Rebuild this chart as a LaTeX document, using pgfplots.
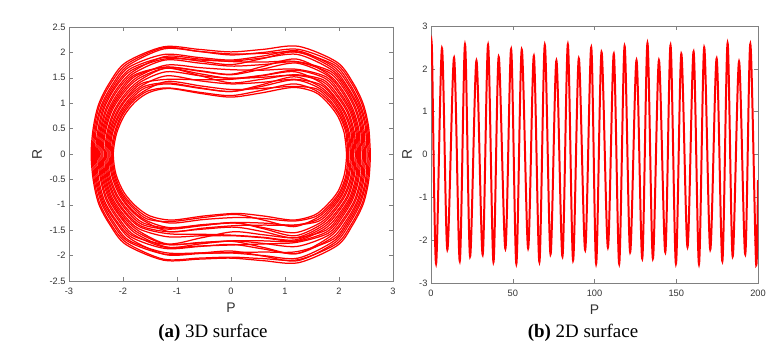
\documentclass[border=0pt]{standalone}
\usepackage{pgfplots}
\pgfplotsset{compat=1.18}
\usepackage{fontspec}
\setmainfont{Liberation Sans}
\newfontfamily\capfont{Liberation Serif}

\pgfplotsset{
  matlab/.style={
    scale only axis, anchor=south west,
    axis line style={black!50, line width=0.5pt},
    tick style={black!50, line width=0.5pt},
    major tick length=4bp,
    tick align=inside,
    xtick pos=both, ytick pos=both,
    tick label style={font=\fontsize{9.3}{11}\selectfont, text=black!80},
    xticklabel style={yshift=-4bp},
    /pgf/number format/assume math mode=true,
    every axis x label/.style={at={(axis description cs:0.5,0)}, anchor=center,
      yshift=-27bp, font=\fontsize{14}{16}\selectfont, text=black!80},
    every axis y label/.style={at={(axis description cs:0,0.5)}, anchor=center,
      xshift=-#1, rotate=90, font=\fontsize{14}{16}\selectfont, text=black!80},
  },
  orbit/.style={red, line width=1.25pt, smooth, no marks},
}

\begin{document}
\begin{tikzpicture}
\path[use as bounding box] (0,0) rectangle (781bp,346bp);

% (a) phase portrait: one closed orbit per plot, inner to outer
\begin{axis}[matlab=32bp,
  at={(69bp,65bp)}, width=324bp, height=254bp,
  xmin=-3, xmax=3, ymin=-2.5, ymax=2.5,
  xtick={-3,-2,...,3}, ytick={-2.5,-2,...,2.5},
  xlabel={P}, ylabel={R}]
\addplot[orbit] coordinates {(2.14,0) (2.10,0.40) (1.98,0.74) (1.78,1.02) (1.55,1.22) (1.15,1.31) (0.55,1.20) (0,1.12) (-0.55,1.19) (-1.15,1.29) (-1.52,1.21) (-1.78,1.02) (-1.98,0.75) (-2.12,0.40) (-2.18,0) (-2.13,-0.40) (-1.98,-0.76) (-1.76,-1.03) (-1.50,-1.22) (-1.10,-1.30) (-0.50,-1.22) (0.10,-1.17) (0.60,-1.22) (1.15,-1.30) (1.55,-1.20) (1.78,-1.00) (1.98,-0.74) (2.10,-0.40) (2.14,0) (2.10,0.40)};
\addplot[orbit] coordinates {(2.16,0) (2.13,0.41) (2.01,0.75) (1.81,1.04) (1.57,1.25) (1.16,1.38) (0.55,1.25) (0,1.15) (-0.55,1.21) (-1.16,1.30) (-1.54,1.24) (-1.81,1.04) (-2.01,0.76) (-2.14,0.41) (-2.20,0) (-2.15,-0.41) (-2.01,-0.77) (-1.79,-1.05) (-1.53,-1.25) (-1.11,-1.36) (-0.51,-1.29) (0.10,-1.25) (0.60,-1.27) (1.16,-1.32) (1.57,-1.23) (1.81,-1.02) (2.01,-0.75) (2.13,-0.41) (2.16,0) (2.13,0.41)};
\addplot[orbit] coordinates {(2.18,0) (2.15,0.41) (2.03,0.76) (1.83,1.06) (1.59,1.28) (1.16,1.33) (0.56,1.29) (0,1.27) (-0.56,1.34) (-1.16,1.43) (-1.56,1.27) (-1.83,1.06) (-2.03,0.77) (-2.16,0.41) (-2.22,0) (-2.17,-0.41) (-2.03,-0.78) (-1.81,-1.07) (-1.55,-1.28) (-1.12,-1.33) (-0.51,-1.25) (0.09,-1.19) (0.60,-1.30) (1.16,-1.43) (1.59,-1.26) (1.83,-1.04) (2.03,-0.76) (2.15,-0.41) (2.18,0) (2.15,0.41)};
\addplot[orbit] coordinates {(2.21,0) (2.17,0.42) (2.05,0.78) (1.86,1.08) (1.61,1.31) (1.17,1.46) (0.56,1.33) (0,1.23) (-0.56,1.29) (-1.17,1.38) (-1.59,1.30) (-1.85,1.08) (-2.05,0.79) (-2.19,0.42) (-2.24,0) (-2.19,-0.42) (-2.05,-0.79) (-1.84,-1.09) (-1.57,-1.31) (-1.13,-1.45) (-0.52,-1.39) (0.09,-1.35) (0.60,-1.36) (1.17,-1.40) (1.61,-1.29) (1.85,-1.06) (2.05,-0.78) (2.17,-0.42) (2.21,0) (2.17,0.42)};
\addplot[orbit] coordinates {(2.23,0) (2.19,0.42) (2.07,0.79) (1.88,1.10) (1.63,1.34) (1.17,1.52) (0.56,1.36) (0,1.23) (-0.56,1.30) (-1.17,1.40) (-1.61,1.33) (-1.87,1.10) (-2.07,0.80) (-2.21,0.42) (-2.26,0) (-2.21,-0.42) (-2.07,-0.80) (-1.86,-1.10) (-1.59,-1.33) (-1.13,-1.53) (-0.52,-1.46) (0.08,-1.41) (0.60,-1.40) (1.17,-1.40) (1.63,-1.32) (1.87,-1.08) (2.07,-0.79) (2.19,-0.42) (2.23,0) (2.19,0.42)};
\addplot[orbit] coordinates {(2.25,0) (2.22,0.43) (2.10,0.80) (1.90,1.12) (1.65,1.37) (1.18,1.47) (0.57,1.41) (0,1.38) (-0.57,1.44) (-1.18,1.54) (-1.63,1.36) (-1.90,1.12) (-2.10,0.81) (-2.23,0.43) (-2.28,0) (-2.24,-0.43) (-2.10,-0.82) (-1.89,-1.12) (-1.62,-1.36) (-1.14,-1.46) (-0.53,-1.40) (0.08,-1.36) (0.60,-1.45) (1.18,-1.55) (1.66,-1.35) (1.90,-1.10) (2.10,-0.80) (2.22,-0.43) (2.25,0) (2.22,0.43)};
\addplot[orbit] coordinates {(2.27,0) (2.24,0.44) (2.12,0.81) (1.92,1.13) (1.67,1.40) (1.18,1.62) (0.57,1.54) (0,1.47) (-0.57,1.46) (-1.18,1.47) (-1.65,1.39) (-1.92,1.13) (-2.12,0.82) (-2.25,0.44) (-2.30,0) (-2.26,-0.44) (-2.12,-0.83) (-1.91,-1.14) (-1.64,-1.39) (-1.15,-1.48) (-0.53,-1.41) (0.07,-1.35) (0.60,-1.47) (1.18,-1.61) (1.68,-1.38) (1.92,-1.12) (2.12,-0.81) (2.24,-0.44) (2.27,0) (2.24,0.44)};
\addplot[orbit] coordinates {(2.30,0) (2.26,0.45) (2.15,0.83) (1.95,1.15) (1.69,1.43) (1.19,1.55) (0.57,1.51) (0,1.49) (-0.57,1.54) (-1.19,1.62) (-1.67,1.42) (-1.95,1.15) (-2.15,0.83) (-2.27,0.45) (-2.32,0) (-2.28,-0.45) (-2.15,-0.84) (-1.94,-1.16) (-1.66,-1.42) (-1.16,-1.53) (-0.54,-1.48) (0.07,-1.44) (0.60,-1.53) (1.19,-1.65) (1.70,-1.41) (1.95,-1.14) (2.15,-0.83) (2.26,-0.45) (2.30,0) (2.26,0.45)};
\addplot[orbit] coordinates {(2.32,0) (2.28,0.45) (2.17,0.84) (1.97,1.17) (1.71,1.46) (1.19,1.56) (0.57,1.47) (0,1.40) (-0.57,1.54) (-1.19,1.69) (-1.69,1.45) (-1.97,1.17) (-2.17,0.84) (-2.29,0.45) (-2.34,0) (-2.30,-0.45) (-2.17,-0.85) (-1.96,-1.17) (-1.68,-1.44) (-1.16,-1.57) (-0.54,-1.58) (0.06,-1.60) (0.60,-1.64) (1.19,-1.69) (1.72,-1.44) (1.97,-1.16) (2.17,-0.84) (2.28,-0.45) (2.32,0) (2.28,0.45)};
\addplot[orbit] coordinates {(2.34,0) (2.31,0.46) (2.20,0.85) (2.00,1.19) (1.74,1.49) (1.20,1.65) (0.58,1.55) (0,1.49) (-0.58,1.58) (-1.20,1.69) (-1.72,1.48) (-2.00,1.19) (-2.20,0.86) (-2.32,0.46) (-2.37,0) (-2.32,-0.46) (-2.20,-0.86) (-1.99,-1.19) (-1.71,-1.47) (-1.17,-1.63) (-0.55,-1.61) (0.06,-1.61) (0.60,-1.65) (1.20,-1.71) (1.74,-1.47) (2.00,-1.18) (2.20,-0.85) (2.31,-0.46) (2.34,0) (2.31,0.46)};
\addplot[orbit] coordinates {(2.36,0) (2.33,0.46) (2.22,0.86) (2.02,1.21) (1.76,1.52) (1.20,1.67) (0.58,1.65) (0,1.66) (-0.58,1.70) (-1.20,1.75) (-1.74,1.51) (-2.02,1.21) (-2.22,0.87) (-2.34,0.46) (-2.39,0) (-2.34,-0.46) (-2.22,-0.87) (-2.01,-1.21) (-1.73,-1.50) (-1.18,-1.77) (-0.55,-1.65) (0.05,-1.53) (0.60,-1.59) (1.20,-1.65) (1.76,-1.50) (2.02,-1.20) (2.22,-0.86) (2.33,-0.46) (2.36,0) (2.33,0.46)};
\addplot[orbit] coordinates {(2.38,0) (2.35,0.47) (2.24,0.87) (2.05,1.23) (1.78,1.55) (1.21,1.79) (0.58,1.67) (0,1.56) (-0.58,1.63) (-1.21,1.71) (-1.76,1.54) (-2.04,1.23) (-2.24,0.88) (-2.36,0.47) (-2.41,0) (-2.36,-0.47) (-2.24,-0.88) (-2.03,-1.23) (-1.75,-1.53) (-1.19,-1.78) (-0.56,-1.74) (0.05,-1.71) (0.60,-1.71) (1.21,-1.72) (1.78,-1.53) (2.04,-1.22) (2.24,-0.87) (2.35,-0.47) (2.38,0) (2.35,0.47)};
\addplot[orbit] coordinates {(2.40,0) (2.37,0.47) (2.26,0.88) (2.07,1.25) (1.80,1.57) (1.21,1.87) (0.58,1.72) (0,1.57) (-0.58,1.64) (-1.21,1.71) (-1.78,1.56) (-2.06,1.25) (-2.26,0.89) (-2.38,0.47) (-2.43,0) (-2.38,-0.47) (-2.26,-0.89) (-2.05,-1.24) (-1.77,-1.56) (-1.19,-1.83) (-0.56,-1.81) (0.04,-1.79) (0.60,-1.77) (1.21,-1.74) (1.80,-1.56) (2.06,-1.24) (2.26,-0.88) (2.37,-0.47) (2.40,0) (2.37,0.47)};
\addplot[orbit] coordinates {(2.43,0) (2.40,0.48) (2.29,0.90) (2.10,1.27) (1.82,1.60) (1.22,1.81) (0.59,1.76) (0,1.73) (-0.59,1.79) (-1.22,1.85) (-1.80,1.59) (-2.09,1.27) (-2.29,0.90) (-2.40,0.48) (-2.45,0) (-2.40,-0.48) (-2.29,-0.90) (-2.08,-1.26) (-1.80,-1.59) (-1.20,-1.84) (-0.57,-1.77) (0.04,-1.71) (0.60,-1.76) (1.22,-1.82) (1.82,-1.59) (2.09,-1.26) (2.29,-0.90) (2.40,-0.48) (2.43,0) (2.40,0.48)};
\addplot[orbit] coordinates {(2.45,0) (2.42,0.48) (2.31,0.91) (2.12,1.29) (1.84,1.63) (1.22,1.82) (0.59,1.81) (0,1.82) (-0.59,1.87) (-1.22,1.92) (-1.82,1.62) (-2.11,1.29) (-2.31,0.91) (-2.42,0.48) (-2.47,0) (-2.42,-0.48) (-2.31,-0.91) (-2.10,-1.28) (-1.82,-1.61) (-1.21,-1.78) (-0.57,-1.75) (0.03,-1.72) (0.60,-1.84) (1.22,-1.96) (1.84,-1.62) (2.11,-1.28) (2.31,-0.91) (2.42,-0.48) (2.45,0) (2.42,0.48)};
\addplot[orbit] coordinates {(2.47,0) (2.44,0.49) (2.34,0.92) (2.14,1.31) (1.86,1.66) (1.23,1.96) (0.59,1.89) (0,1.83) (-0.59,1.85) (-1.23,1.87) (-1.84,1.65) (-2.14,1.31) (-2.34,0.92) (-2.44,0.49) (-2.49,0) (-2.45,-0.49) (-2.34,-0.93) (-2.13,-1.30) (-1.84,-1.64) (-1.22,-1.86) (-0.58,-1.82) (0.03,-1.78) (0.60,-1.87) (1.23,-1.96) (1.87,-1.65) (2.14,-1.30) (2.34,-0.92) (2.44,-0.49) (2.47,0) (2.44,0.49)};
\addplot[orbit] coordinates {(2.49,0) (2.46,0.50) (2.36,0.93) (2.16,1.32) (1.88,1.69) (1.23,2.01) (0.59,1.88) (0,1.76) (-0.59,1.83) (-1.23,1.90) (-1.86,1.68) (-2.16,1.32) (-2.36,0.93) (-2.46,0.50) (-2.51,0) (-2.47,-0.50) (-2.36,-0.94) (-2.15,-1.31) (-1.86,-1.67) (-1.22,-1.98) (-0.58,-1.96) (0.02,-1.94) (0.60,-1.93) (1.23,-1.92) (1.89,-1.68) (2.16,-1.32) (2.36,-0.93) (2.46,-0.50) (2.49,0) (2.46,0.50)};
\addplot[orbit] coordinates {(2.52,0) (2.49,0.51) (2.38,0.95) (2.19,1.34) (1.90,1.72) (1.24,2.03) (0.60,1.93) (0,1.85) (-0.60,1.90) (-1.24,1.96) (-1.89,1.71) (-2.18,1.34) (-2.38,0.95) (-2.49,0.51) (-2.53,0) (-2.49,-0.51) (-2.38,-0.95) (-2.18,-1.33) (-1.89,-1.70) (-1.23,-1.94) (-0.59,-1.95) (0.02,-1.95) (0.60,-2.00) (1.24,-2.05) (1.91,-1.71) (2.18,-1.34) (2.38,-0.95) (2.49,-0.51) (2.52,0) (2.49,0.51)};
\addplot[orbit] coordinates {(2.54,0) (2.51,0.51) (2.40,0.96) (2.21,1.36) (1.92,1.75) (1.24,2.00) (0.60,1.98) (0,1.97) (-0.60,2.02) (-1.24,2.07) (-1.91,1.74) (-2.20,1.36) (-2.40,0.96) (-2.51,0.51) (-2.55,0) (-2.51,-0.51) (-2.40,-0.96) (-2.20,-1.35) (-1.91,-1.72) (-1.24,-1.97) (-0.59,-1.95) (0.01,-1.91) (0.60,-2.01) (1.24,-2.10) (1.93,-1.74) (2.20,-1.36) (2.40,-0.96) (2.51,-0.51) (2.54,0) (2.51,0.51)};
\addplot[orbit] coordinates {(2.56,0) (2.53,0.52) (2.43,0.97) (2.24,1.38) (1.94,1.78) (1.25,2.06) (0.60,2.00) (0,1.95) (-0.60,2.02) (-1.25,2.09) (-1.93,1.77) (-2.23,1.38) (-2.43,0.97) (-2.53,0.52) (-2.57,0) (-2.53,-0.52) (-2.43,-0.97) (-2.23,-1.37) (-1.93,-1.75) (-1.25,-2.07) (-0.60,-2.05) (0.01,-2.03) (0.60,-2.06) (1.25,-2.08) (1.95,-1.77) (2.23,-1.38) (2.43,-0.97) (2.53,-0.52) (2.56,0) (2.53,0.52)};
\addplot[orbit] coordinates {(2.58,0) (2.55,0.52) (2.45,0.98) (2.26,1.40) (1.96,1.81) (1.25,2.12) (0.60,2.06) (0,2.01) (-0.60,2.06) (-1.25,2.11) (-1.95,1.80) (-2.25,1.40) (-2.45,0.98) (-2.55,0.52) (-2.59,0) (-2.55,-0.52) (-2.45,-0.98) (-2.25,-1.38) (-1.95,-1.78) (-1.25,-2.09) (-0.60,-2.07) (0,-2.05) (0.60,-2.10) (1.25,-2.14) (1.97,-1.80) (2.25,-1.40) (2.45,-0.98) (2.55,-0.52) (2.58,0) (2.55,0.52)};
\end{axis}

% (b) time series: successive peaks and troughs
\begin{axis}[matlab=24bp,
  at={(431bp,63bp)}, width=327bp, height=257bp,
  xmin=0, xmax=200, ymin=-3, ymax=3,
  xtick={0,50,...,200}, ytick={-3,-2,...,3},
  xlabel={P}, ylabel={R}]
\addplot[red, line width=2pt, smooth, tension=0.5, no marks] coordinates {
(0,2.2) (0.6,2.4) (3.1,-2.55) (6.7,2.48) (10.0,-2.22) (14.1,2.26) (17.6,-2.49)
(20.8,2.57) (23.9,-2.38) (27.8,2.19) (31.6,-2.34) (34.9,2.56) (38.2,-2.51)
(41.4,2.28) (45.5,-2.2) (49.0,2.46) (52.2,-2.55) (55.5,2.45) (59.4,-2.19)
(62.9,2.30) (66.3,-2.51) (69.6,2.56) (73.1,-2.33) (76.7,2.19) (80.4,-2.38)
(83.7,2.57) (86.9,-2.47) (90.4,2.24) (94.3,-2.23) (98.0,2.50) (101.0,-2.55)
(104.3,2.39) (108.2,-2.17) (111.8,2.35) (115.1,-2.55) (118.4,2.53) (121.8,-2.28)
(125.7,2.20) (129.2,-2.43) (132.4,2.60) (135.7,-2.43) (139.4,2.20) (143.3,-2.28)
(146.5,2.55) (149.8,-2.55) (153.1,2.35) (156.9,-2.16) (160.6,2.40) (163.9,-2.56)
(167.1,2.50) (170.8,-2.22) (174.7,2.24) (178.2,-2.49) (181.4,2.60) (184.5,-2.38)
(188.4,2.17) (192.2,-2.33) (195.3,2.58) (198.8,-2.53) (200,-0.6)};
\end{axis}

\node[font=\capfont\fontsize{19}{22}\selectfont] at (213bp,13bp) {\textbf{(a)} 3D surface};
\node[font=\capfont\fontsize{19}{22}\selectfont] at (583bp,13bp) {\textbf{(b)} 2D surface};
\end{tikzpicture}
\end{document}
